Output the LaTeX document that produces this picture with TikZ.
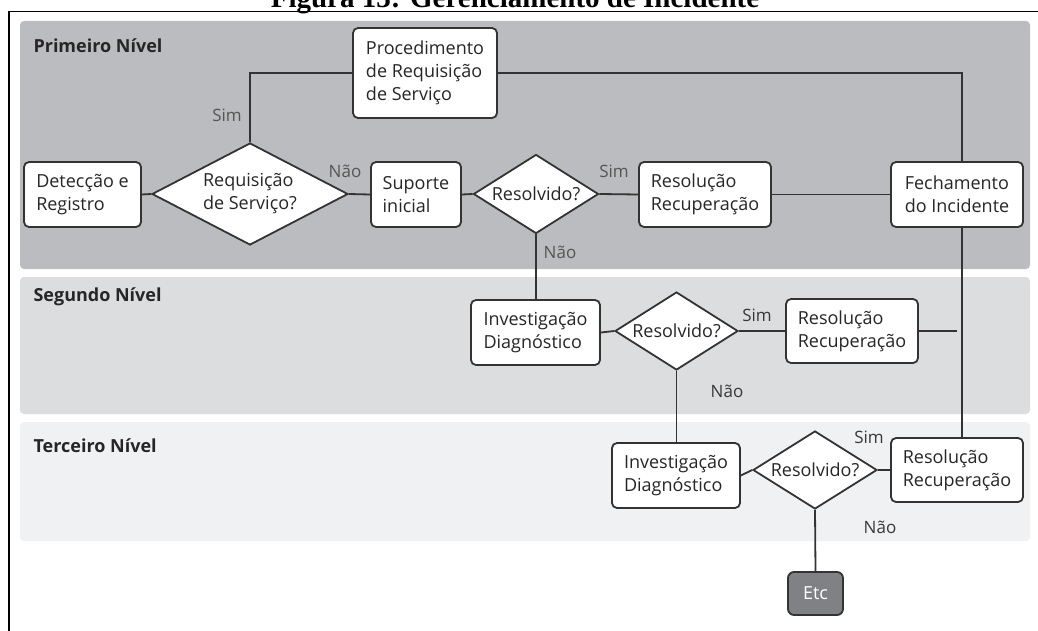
\documentclass[tikz,border=0pt]{standalone}
\usepackage{fontspec}
\setmainfont{Open Sans}
\newfontfamily\captionserif{Liberation Serif}
\usetikzlibrary{shapes.geometric}

\definecolor{ink}{HTML}{262626}
\definecolor{wire}{HTML}{333333}
\definecolor{tierA}{HTML}{BBBCBF}
\definecolor{tierB}{HTML}{DCDDDF}
\definecolor{tierC}{HTML}{F0F1F2}
\definecolor{etcfill}{HTML}{808184}
\definecolor{answer}{HTML}{555555}
\definecolor{answerdark}{HTML}{383838}

\begin{document}
\begin{tikzpicture}[x=1pt,y=-1pt,
  tiertitle/.style={anchor=west, text=ink, font=\fontsize{18}{22}\selectfont\bfseries},
  stepbox/.style={draw=wire, line width=1.8pt, rounded corners=5pt, fill=white,
    text=ink, align=left, inner sep=0pt, font=\fontsize{18}{23}\selectfont},
  decision/.style={diamond, draw=wire, line width=1.8pt, fill=white, inner sep=0pt},
  decisiontext/.style={text=ink, align=left, font=\fontsize{18}{23}\selectfont},
  answerlbl/.style={text=answer, font=\fontsize{17}{20}\selectfont},
  answerlbldark/.style={answerlbl, text=answerdark},
  wireline/.style={draw=wire, line width=1.8pt},
]
\useasboundingbox (0,0) rectangle (1038,631);

% caption and page frame
\node[anchor=base, text=black, font=\captionserif\bfseries\fontsize{29}{32}\selectfont]
  (caption) at (515,8) {Figura 13: Gerenciamento de Incidente};
\draw[line width=1.5pt, black] (9,650) -- (9,11.5) -- (1050,11.5);

% support tiers
\fill[tierA, rounded corners=4pt] (20,21) rectangle (1030,269);
\fill[tierB, rounded corners=4pt] (20,277) rectangle (1030,414);
\fill[tierC, rounded corners=4pt] (20,422) rectangle (1030,541);
\node[tiertitle] (t1) at (30,46) {Primeiro Nível};
\node[tiertitle] (t2) at (30,297) {Segundo Nível};
\node[tiertitle] (t3) at (30,446) {Terceiro Nível};

% first tier
\node[stepbox, minimum width=117pt, minimum height=65pt] (det) at (82.5,194.5) {Detecção e\\Registro};
\node[decision, minimum width=196pt, minimum height=102pt,
  label={[decisiontext]center:{Requisição\\de Serviço?}}] (req) at (250,194) {};
\node[stepbox, minimum width=144pt, minimum height=90pt] (proc) at (425,73) {Procedimento\\de Requisição\\de Serviço};
\node[stepbox, minimum width=90pt, minimum height=65pt] (sup) at (416,194.5) {Suporte\\inicial};
\node[decision, minimum width=125pt, minimum height=79pt,
  label={[decisiontext]center:Resolvido?}] (res1) at (536,194) {};
\node[stepbox, minimum width=132pt, minimum height=65pt] (rec1) at (705,194.5) {Resolução\\Recuperação};
\node[stepbox, minimum width=132pt, minimum height=65pt] (fech) at (957,194.5) {Fechamento\\do Incidente};

% second tier
\node[stepbox, minimum width=129pt, minimum height=65pt] (inv1) at (535.5,332.5) {Investigação\\Diagnóstico};
\node[decision, minimum width=123pt, minimum height=78pt,
  label={[decisiontext]center:Resolvido?}] (res2) at (676.5,331) {};
\node[stepbox, minimum width=132pt, minimum height=64pt] (rec2) at (852,331) {Resolução\\Recuperação};

% third tier
\node[stepbox, minimum width=128pt, minimum height=65pt] (inv2) at (676,475.5) {Investigação\\Diagnóstico};
\node[decision, minimum width=124pt, minimum height=78pt,
  label={[decisiontext]center:Resolvido?}] (res3) at (815,470) {};
\node[stepbox, minimum width=132pt, minimum height=64pt] (rec3) at (957,470) {Resolução\\Recuperação};
\node[stepbox, fill=etcfill, text=white, rounded corners=6pt, align=center,
  minimum width=55pt, minimum height=43pt] (etc) at (815.5,593.5) {Etc};

% return path to closing
\coordinate (rail) at (962,73);
\coordinate (stub) at (957,331);

% connectors
\draw[wireline] (det.east) -- (req.west);
\draw[wireline] (req.east) -- (sup.west);
\draw[wireline] (sup.east) -- (res1.west);
\draw[wireline] (res1.east) -- (rec1.west);
\draw[wireline] (rec1.east) -- (fech.west);
\draw[wireline] (req.north) |- (proc.west);
\draw[wireline] (proc.east) -- (rail) -- (rail |- fech.north);
\draw[wireline] (rail |- fech.south) -- (rail |- rec3.north);
\draw[wireline] (res1.south) -- (res1.south |- inv1.north);
\draw[wireline] (inv1.east) -- (res2.west);
\draw[wireline] (res2.east) -- (rec2.west);
\draw[wireline] (rec2.east) -- (stub);
\draw[wireline] (res2.south) -- (res2.south |- inv2.north);
\draw[wireline] (inv2.east) -- (res3.west);
\draw[wireline] (res3.east) -- (rec3.west);
\draw[wireline] (res3.south) -- (etc.north);

% answers
\node[answerlbl] (a1) at (227,115) {Sim};
\node[answerlbl] (a2) at (345,171) {Não};
\node[answerlbl] (a3) at (614,171) {Sim};
\node[answerlbl] (a4) at (560,252) {Não};
\node[answerlbldark] (a5) at (757,315) {Sim};
\node[answerlbldark] (a6) at (727,391) {Não};
\node[answerlbldark] (a7) at (869,437) {Sim};
\node[answerlbldark] (a8) at (880,527) {Não};
\end{tikzpicture}
\end{document}
